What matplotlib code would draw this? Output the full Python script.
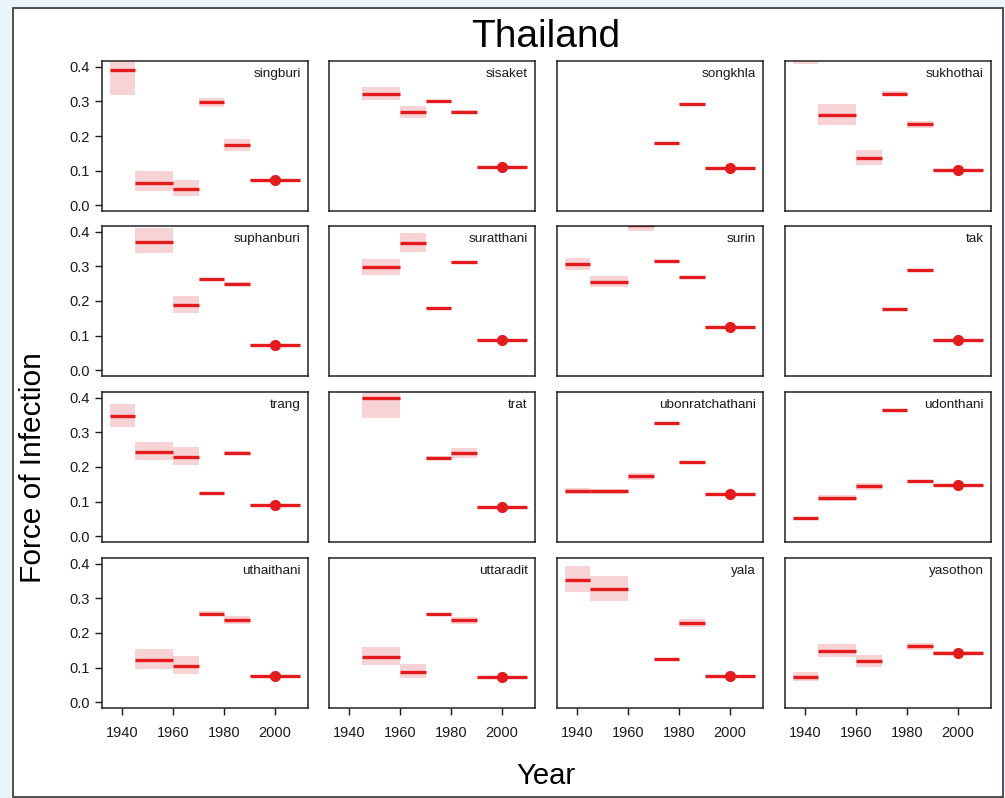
import numpy as np
import matplotlib.pyplot as plt
from matplotlib.patches import Rectangle

nan = np.nan

provinces = ["singburi", "sisaket", "songkhla", "sukhothai",
             "suphanburi", "suratthani", "surin", "tak",
             "trang", "trat", "ubonratchathani", "udonthani",
             "uthaithani", "uttaradit", "yala", "yasothon"]

# age-window segments (years)
seg_start = [1935, 1945, 1960, 1970, 1980, 1990]
seg_end = [1945, 1960, 1970, 1980, 1990, 2010]
dot_year = 2000

# estimated force of infection per segment
foi_mid = [
    [0.389, 0.065, 0.046, 0.297, 0.173, 0.072],
    [nan, 0.321, 0.268, 0.300, 0.269, 0.111],
    [nan, nan, nan, 0.179, 0.291, 0.107],
    [0.430, 0.260, 0.136, 0.321, 0.234, 0.101],
    [nan, 0.371, 0.188, 0.262, 0.250, 0.074],
    [nan, 0.299, 0.368, 0.181, 0.311, 0.088],
    [0.308, 0.256, 0.420, 0.316, 0.270, 0.126],
    [nan, nan, nan, 0.176, 0.290, 0.088],
    [0.347, 0.244, 0.230, 0.124, 0.241, 0.091],
    [nan, 0.400, nan, 0.227, 0.239, 0.086],
    [0.132, 0.130, 0.175, 0.326, 0.215, 0.123],
    [0.054, 0.111, 0.144, 0.363, 0.161, 0.147],
    [nan, 0.121, 0.104, 0.255, 0.237, 0.076],
    [nan, 0.130, 0.088, 0.255, 0.237, 0.073],
    [0.353, 0.327, nan, 0.124, 0.228, 0.077],
    [0.074, 0.148, 0.119, nan, 0.162, 0.143],
]
foi_lo = [
    [0.318, 0.043, 0.028, 0.284, 0.157, 0.069],
    [nan, 0.303, 0.252, 0.297, 0.263, 0.108],
    [nan, nan, nan, 0.176, 0.288, 0.104],
    [0.407, 0.231, 0.117, 0.314, 0.224, 0.098],
    [nan, 0.338, 0.166, 0.259, 0.245, 0.071],
    [nan, 0.274, 0.342, 0.178, 0.308, 0.085],
    [0.289, 0.240, 0.402, 0.313, 0.267, 0.123],
    [nan, nan, nan, 0.173, 0.287, 0.085],
    [0.316, 0.220, 0.207, 0.121, 0.235, 0.088],
    [nan, 0.341, nan, 0.221, 0.226, 0.083],
    [0.123, 0.121, 0.163, 0.323, 0.212, 0.120],
    [0.051, 0.102, 0.134, 0.360, 0.158, 0.144],
    [nan, 0.096, 0.081, 0.250, 0.225, 0.073],
    [nan, 0.108, 0.069, 0.252, 0.227, 0.070],
    [0.317, 0.292, nan, 0.121, 0.218, 0.074],
    [0.062, 0.131, 0.101, nan, 0.151, 0.136],
]
foi_hi = [
    [0.460, 0.098, 0.073, 0.310, 0.190, 0.075],
    [nan, 0.340, 0.285, 0.303, 0.275, 0.114],
    [nan, nan, nan, 0.182, 0.294, 0.110],
    [0.450, 0.292, 0.159, 0.329, 0.243, 0.104],
    [nan, 0.409, 0.213, 0.265, 0.255, 0.077],
    [nan, 0.322, 0.397, 0.184, 0.314, 0.091],
    [0.325, 0.271, 0.440, 0.319, 0.273, 0.129],
    [nan, nan, nan, 0.179, 0.293, 0.091],
    [0.381, 0.272, 0.257, 0.127, 0.247, 0.094],
    [nan, 0.450, nan, 0.233, 0.256, 0.089],
    [0.140, 0.138, 0.184, 0.329, 0.218, 0.126],
    [0.057, 0.119, 0.154, 0.366, 0.164, 0.150],
    [nan, 0.153, 0.133, 0.262, 0.249, 0.079],
    [nan, 0.160, 0.111, 0.258, 0.246, 0.076],
    [0.394, 0.365, nan, 0.127, 0.240, 0.080],
    [0.088, 0.168, 0.136, nan, 0.172, 0.149],
]

x_ticks = [1940, 1960, 1980, 2000]
y_ticks = [0.0, 0.1, 0.2, 0.3, 0.4]

RED = "#e41a1c"
PINK = "#f8d3d5"

plt.rcParams["font.family"] = ["Liberation Sans", "DejaVu Sans"]

W, H = 1005, 798
fig = plt.figure(figsize=(W / 100, H / 100), dpi=100)
fig.patch.set_facecolor("#e8f3fa")
fig.patches.append(Rectangle((13 / W, 1 - 797 / H), 990 / W, 789 / H,
                             transform=fig.transFigure, facecolor="white",
                             edgecolor="#333333", linewidth=1.2, zorder=-10))

col_left = [102, 329, 557, 785]
row_top = [61, 226, 392, 558]
pw, ph = 206, 150

for i, name in enumerate(provinces):
    r, c = divmod(i, 4)
    ax = fig.add_axes([col_left[c] / W, 1 - (row_top[r] + ph) / H, pw / W, ph / H])
    for k in range(len(seg_start)):
        m = foi_mid[i][k]
        if np.isnan(m):
            continue
        lo, hi = foi_lo[i][k], foi_hi[i][k]
        ax.add_patch(Rectangle((seg_start[k], lo), seg_end[k] - seg_start[k], hi - lo,
                               facecolor=PINK, edgecolor="none", zorder=1))
        ax.plot([seg_start[k], seg_end[k]], [m, m], color=RED, lw=2.4,
                solid_capstyle="butt", zorder=2)
    ax.plot([dot_year], [foi_mid[i][-1]], "o", color=RED, ms=7, zorder=3)

    ax.set_xlim(1932, 2013)
    ax.set_ylim(-0.016, 0.416)
    ax.text(0.965, 0.915, name, transform=ax.transAxes, ha="right", va="center",
            fontsize=9.7, color="#1a1a1a")
    for s in ax.spines.values():
        s.set_linewidth(1.1)
        s.set_color("#222222")
    ax.tick_params(direction="out", length=5, width=1, labelsize=10.5, colors="#1a1a1a")
    ax.set_xticks(x_ticks)
    ax.set_yticks(y_ticks)
    ax.set_yticklabels([f"{v:.1f}" for v in y_ticks])
    if c != 0:
        ax.tick_params(axis="y", left=False, labelleft=False)
    if r != 3:
        ax.tick_params(axis="x", bottom=False, labelbottom=False)
    else:
        ax.tick_params(axis="x", pad=8)

fig.text(546 / W, 1 - 37 / H, "Thailand", ha="center", va="center", fontsize=28)
fig.text(546 / W, 1 - 776 / H, "Year", ha="center", va="center", fontsize=21)
fig.text(33 / W, 1 - 468 / H, "Force of Infection", ha="center", va="center",
         fontsize=21.5, rotation=90)

fig.savefig("out.png", dpi=100)
